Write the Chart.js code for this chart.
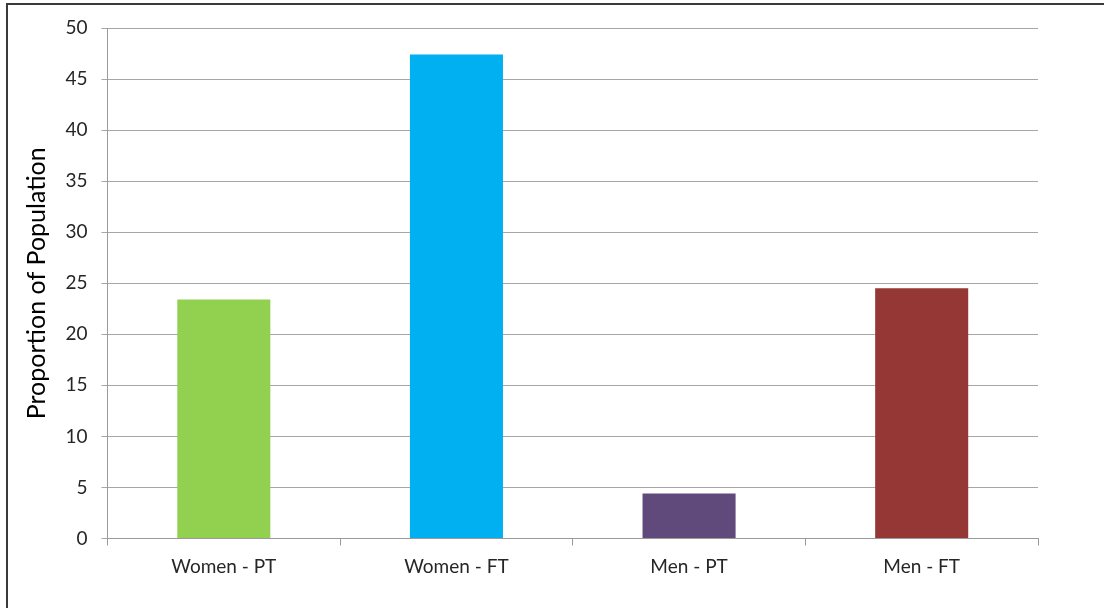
<!DOCTYPE html>
<html><head><meta charset="utf-8">
<script src="https://cdn.jsdelivr.net/npm/chart.js@4"></script>
<style>
html,body{margin:0;padding:0;background:#fff;overflow:hidden;font-family:Lato;}
#wrap{position:relative;width:1104px;height:608px;}
#frame{position:absolute;left:6px;top:3px;width:1200px;height:700px;border:2px solid #3a3a3a;pointer-events:none;}
canvas{position:absolute;left:0;top:0;}
</style></head>
<body>
<div id="wrap"><canvas id="c" width="1104" height="608"></canvas><div id="frame"></div></div>
<script>
const categories = ["Women - PT", "Women - FT", "Men - PT", "Men - FT"];
const values = [23.4, 47.4, 4.4, 24.5];
const barColors = ["#92D050", "#00B0F0", "#604A7B", "#953735"];
const yTicks = [0, 5, 10, 15, 20, 25, 30, 35, 40, 45, 50];
const yTitle = "Proportion of Population";

Chart.defaults.font.family = 'Lato';

function draw() {
  new Chart(document.getElementById('c'), {
    type: 'bar',
    data: {
      labels: categories,
      datasets: [{ data: values, backgroundColor: barColors, borderWidth: 0, barPercentage: 0.4, categoryPercentage: 1.0 }]
    },
    options: {
      responsive: false,
      animation: false,
      devicePixelRatio: 1,
      layout: { padding: { left: 0, right: 66, top: 28, bottom: 0 } },
      plugins: { legend: { display: false }, tooltip: { enabled: false } },
      scales: {
        x: {
          offset: true,
          grid: { display: true, drawOnChartArea: false, offset: true, color: '#9a9a9a', tickLength: 7 },
          border: { display: true, color: '#9a9a9a', width: 1 },
          ticks: { color: '#262626', font: { family: 'Lato', size: 19 }, padding: 10 },
          afterFit: s => { s.height = 69.5; }
        },
        y: {
          min: 0, max: 50,
          afterBuildTicks: s => { s.ticks = yTicks.map(v => ({ value: v })); },
          grid: { color: '#a6a6a6', tickLength: 6, drawTicks: true },
          border: { display: true, color: '#9a9a9a', width: 1 },
          ticks: { color: '#262626', font: { family: 'Lato', size: 19 }, padding: 14 },
          title: { display: true, text: yTitle, color: '#000', font: { family: 'Lato', size: 25, weight: 'normal' }, padding: { top: 22, bottom: 0 } },
          afterFit: s => { s.width = 107.5; }
        }
      }
    }
  });
}
Promise.all([document.fonts.load('19px Lato'), document.fonts.load('25px Lato')]).then(draw, draw);
</script>
</body></html>
